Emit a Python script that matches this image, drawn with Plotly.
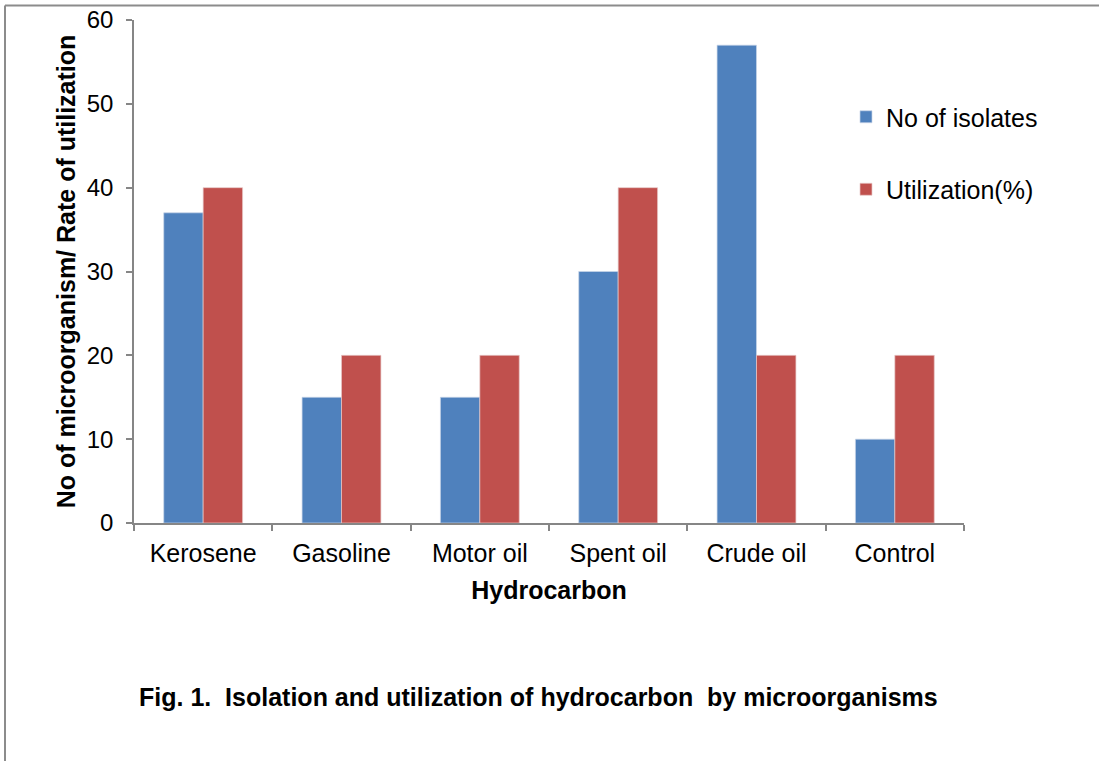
import plotly.graph_objects as go

categories = ["Kerosene", "Gasoline", "Motor oil", "Spent oil", "Crude oil", "Control"]
isolates = [37, 15, 15, 30, 57, 10]
utilization = [40, 20, 20, 40, 20, 20]

FONT = "Liberation Sans, Arial, sans-serif"
AX = "#868686"

fig = go.Figure()
fig.add_trace(go.Bar(x=categories, y=isolates, name="No of isolates",
                     marker=dict(color="#4F81BD", line=dict(color="#C9D6E8", width=0.7)),
                     legendgroup="a"))
fig.add_trace(go.Bar(x=categories, y=utilization, name="Utilization(%)",
                     marker=dict(color="#C0504D", line=dict(color="#E8C9C8", width=0.7)),
                     legendgroup="b"))

# body margin is removed in the page, so figure pixels == page pixels
W, H = 1099, 761
L, T = 134, 20
pw, ph = 830, 503
R, B = W - L - pw, H - T - ph

def px(x):  # page pixel -> paper
    return (x - L) / pw

def py(y):
    return (T + ph - y) / ph

fig.update_layout(
    width=W, height=H,
    margin=dict(l=L, r=R, t=T, b=B, autoexpand=False),
    paper_bgcolor="white", plot_bgcolor="white",
    font=dict(family=FONT, size=25, color="black"),
    barmode="group", bargap=0.43, bargroupgap=0,
    showlegend=True,
    legend=dict(x=px(846), y=py(94), xanchor="left", yanchor="top",
                font=dict(size=25, family=FONT), tracegroupgap=37,
                bgcolor="rgba(0,0,0,0)"),
    xaxis=dict(showline=True, linecolor=AX, linewidth=1.5, ticks="outside",
               tickson="boundaries", ticklen=6, tickcolor=AX, tickwidth=1.5,
               showgrid=False, tickfont=dict(size=25), ticklabelstandoff=7,
               automargin=False,
               title=dict(text="<b>Hydrocarbon</b>", font=dict(size=25), standoff=16)),
    yaxis=dict(showline=True, linecolor=AX, linewidth=1.5, ticks="outside",
               ticklen=6, tickcolor=AX, tickwidth=1.5, range=[0, 60], dtick=10,
               showgrid=False, zeroline=False, tickfont=dict(size=24),
               ticklabelstandoff=8, ticklabeloverflow="allow", automargin=False,
               title=dict(text="<b>No of microorganism/ Rate of utilization</b>",
                          font=dict(size=25), standoff=4)),
    shapes=[
        dict(type="line", xref="paper", yref="paper", x0=px(5), x1=px(1099),
             y0=py(5.5), y1=py(5.5), line=dict(color="#8C8C8C", width=2)),
        dict(type="line", xref="paper", yref="paper", x0=px(5), x1=px(5),
             y0=py(5.5), y1=py(761), line=dict(color="#8C8C8C", width=2)),
    ],
    annotations=[
        dict(text="<b>Fig. 1.  Isolation and utilization of hydrocarbon  by microorganisms</b>",
             xref="paper", yref="paper", x=px(538), y=py(697), showarrow=False,
             xanchor="center", yanchor="middle", font=dict(size=25, family=FONT)),
    ],
)

fig.write_html("out.html", config={"displayModeBar": False},
               post_script="document.body.style.margin='0';")
